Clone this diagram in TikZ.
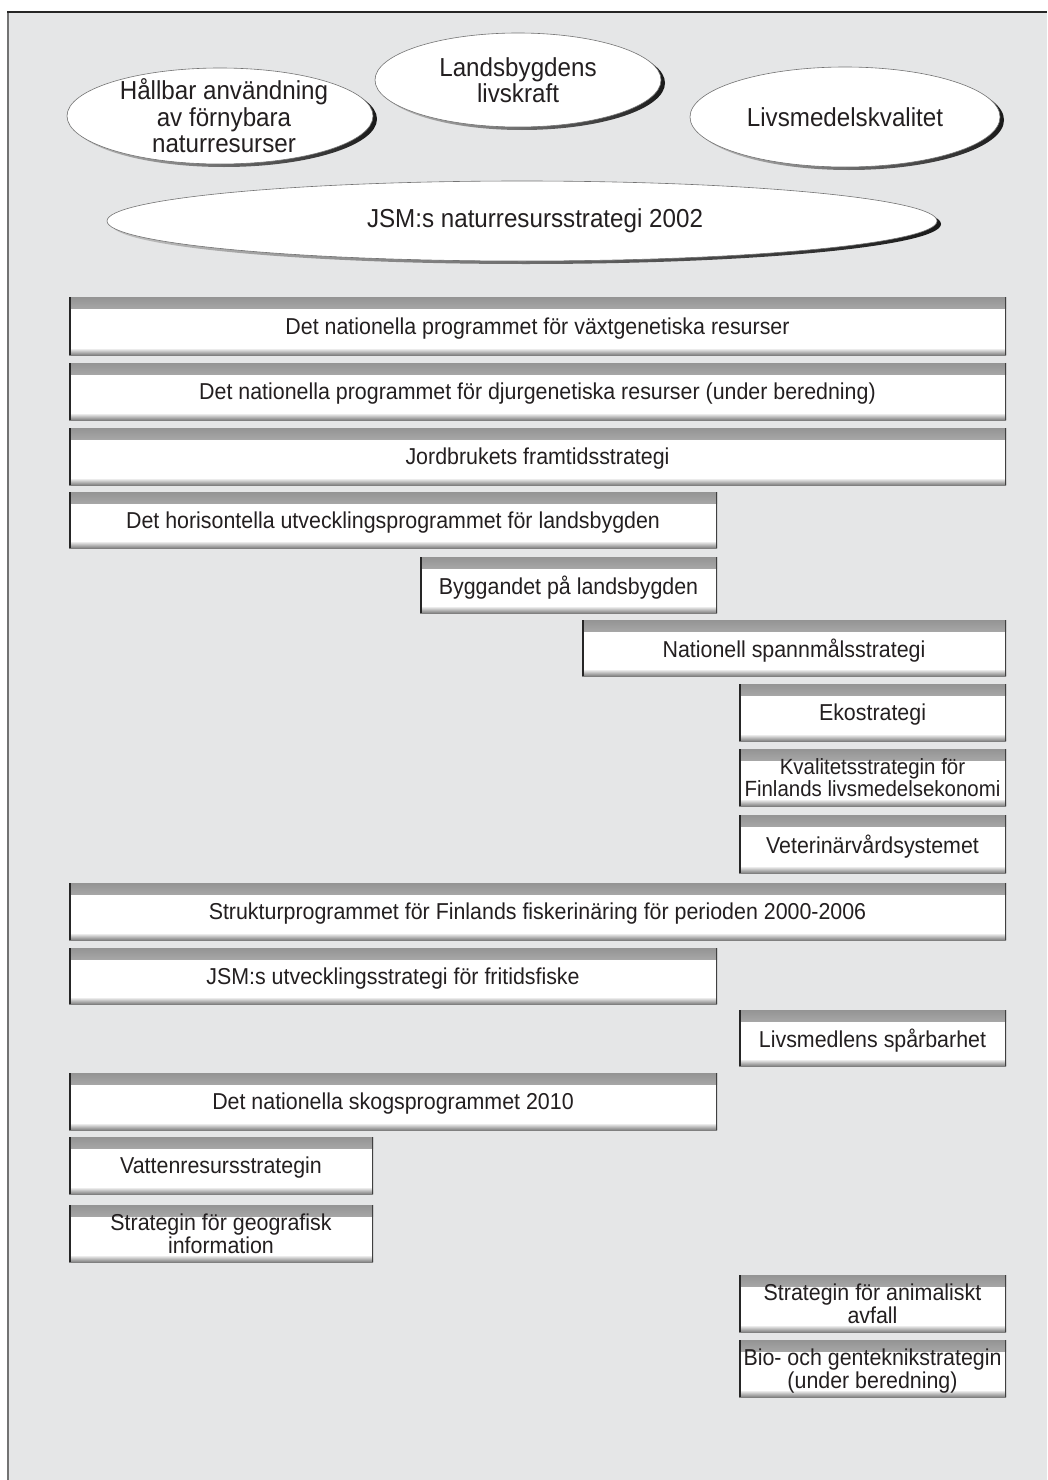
\documentclass[tikz,border=0pt]{standalone}
\usepackage{fontspec}
\setmainfont{Liberation Sans}[FakeStretch=0.93]
\usetikzlibrary{shapes.geometric,shadows}
\definecolor{bggray}{RGB}{229,230,231}
\definecolor{ink}{RGB}{35,31,32}
\tikzset{
  pbox/.style={rectangle, fill=white, inner sep=0pt, text=ink, align=center,
    text depth=0pt, font=\fontsize{23}{18}\selectfont,
    path picture={
      \shade[top color=black!42, bottom color=black!6]
        (path picture bounding box.north west) rectangle ([yshift=-11pt]path picture bounding box.north east);
      \shade[top color=black!8, bottom color=black!50]
        ([yshift=6pt]path picture bounding box.south west) rectangle (path picture bounding box.south east);
      \draw[line width=3pt, black!85] (path picture bounding box.north west) -- (path picture bounding box.south west);
      \draw[line width=3pt, black!75] (path picture bounding box.north east) -- (path picture bounding box.south east);
    }},
  oval/.style={ellipse, draw=black!55, line width=0.6pt, fill=white, text=ink, align=center,
    inner xsep=0pt, inner ysep=-10pt, font=\fontsize{26}{26.5}\selectfont,
    general shadow={shadow xshift=4pt, shadow yshift=-3pt, left color=black!25, right color=black!90}},
}
\newcommand{\pbx}[7][]{\node[pbox, #1, minimum width={(#5-#3)*1pt}, minimum height={(#6-#4)*1pt}] (#2) at ({(#3+#5)/2},{(#4+#6)/2}) {#7};}
\begin{document}
\begin{tikzpicture}[x=1pt,y=-1pt]
\useasboundingbox (0,0) rectangle (1047,1480);
\fill[white] (0,0) rectangle (1047,1480);
\fill[bggray] (8,12) rectangle (1047,1480);
\draw[black!55, line width=2pt] (8,1480) -- (8,12);
\draw[black!85, line width=1.2pt] (7,12) -- (1047,12);

% ellipses
\node[oval, minimum width=304pt, minimum height=96pt] (e1) at (220,116) {\hspace*{8pt}Hållbar användning\\\hspace*{8pt}av förnybara\\\hspace*{8pt}naturresurser};
\node[oval, minimum width=286pt, minimum height=94pt] (e2) at (518,80) {Landsbygdens\\livskraft};
\node[oval, minimum width=310pt, minimum height=100pt] (e3) at (845,117) {Livsmedelskvalitet};
\node[oval, minimum width=830pt, minimum height=80pt] (e4) at (522,221) {\hspace*{26pt}JSM:s naturresursstrategi 2002};

% boxes
\pbx{b1}{69}{297}{1006}{355}{Det nationella programmet för växtgenetiska resurser}
\pbx{b2}{69}{363}{1006}{420}{Det nationella programmet för djurgenetiska resurser (under beredning)}
\pbx{b3}{69}{428}{1006}{485}{Jordbrukets framtidsstrategi}
\pbx{b4}{69}{492}{717}{548}{Det horisontella utvecklingsprogrammet för landsbygden}
\pbx{b5}{420}{557}{717}{613}{Byggandet på landsbygden}
\pbx{b6}{582}{620}{1006}{676}{Nationell spannmålsstrategi}
\pbx{b7}{739}{684}{1006}{741}{Ekostrategi}
\pbx[font=\fontsize{22}{18}\selectfont]{b8}{739}{749}{1006}{806}{Kvalitetsstrategin för\\Finlands livsmedelsekonomi}
\pbx{b9}{739}{815}{1006}{873}{Veterinärvårdsystemet}
\pbx{b10}{69}{883}{1006}{940}{Strukturprogrammet för Finlands fiskerinäring för perioden 2000-2006}
\pbx{b11}{69}{948}{717}{1004}{JSM:s utvecklingsstrategi för fritidsfiske}
\pbx{b12}{739}{1010}{1006}{1066}{Livsmedlens spårbarhet}
\pbx{b13}{69}{1073}{717}{1130}{Det nationella skogsprogrammet 2010}
\pbx{b14}{69}{1137}{373}{1194}{Vattenresursstrategin}
\pbx{b15}{69}{1205}{373}{1262}{Strategin för geografisk\\information}
\pbx{b16}{739}{1275}{1006}{1332}{Strategin för animaliskt\\avfall}
\pbx{b17}{739}{1340}{1006}{1397}{Bio- och genteknikstrategin\\(under beredning)}
\end{tikzpicture}
\end{document}
